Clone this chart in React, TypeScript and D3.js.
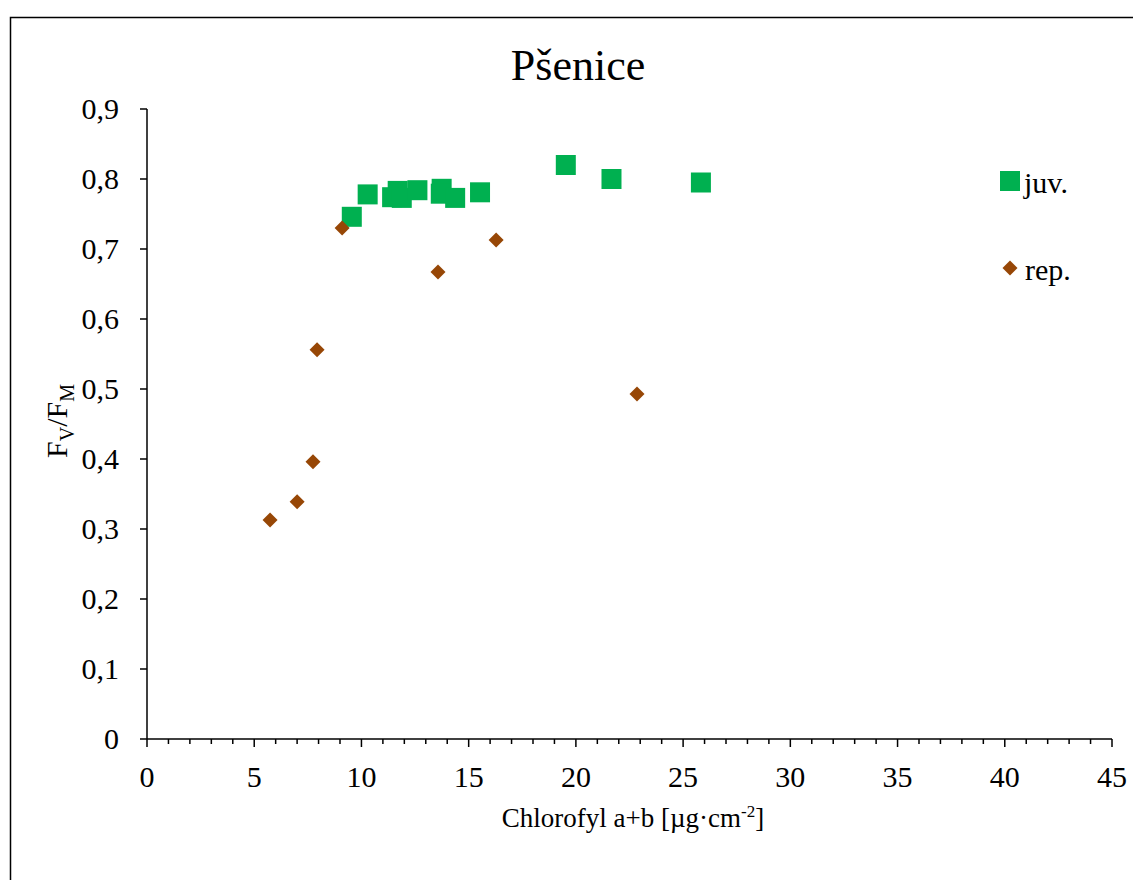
import React from 'react';
import * as d3 from 'd3';

// juv. - zelené čtverce
const juvX = [9.55, 10.29, 11.43, 11.69, 11.88, 12.61, 13.74, 13.7, 14.37, 15.53, 19.53, 21.66, 25.83];
const juvY = [0.746, 0.778, 0.774, 0.783, 0.773, 0.784, 0.786, 0.779, 0.773, 0.781, 0.82, 0.8, 0.795];
// rep. - hnědé kosočtverce
const repX = [5.74, 7.0, 7.74, 7.93, 9.1, 13.57, 16.28, 22.85];
const repY = [0.313, 0.339, 0.396, 0.556, 0.73, 0.667, 0.713, 0.493];

const xTicks = [0, 5, 10, 15, 20, 25, 30, 35, 40, 45];
const yTicks = [0, 0.1, 0.2, 0.3, 0.4, 0.5, 0.6, 0.7, 0.8, 0.9];
const seriesNames = ['juv.', 'rep.'];

const W = 1133, H = 880;
const green = '#00B050';
const brown = '#974706';
const font = '"Liberation Serif", "Times New Roman", serif';

const App = () => {
  const x = d3.scaleLinear().domain([0, 45]).range([147, 1112]);
  const y = d3.scaleLinear().domain([0, 0.9]).range([739, 109]);
  const minor = d3.range(0, 46, 1);
  const fmt = (v: number) => String(+v.toFixed(1)).replace('.', ',');
  const sq = 20;
  const dia = 'M0,-7.5L7.5,0L0,7.5L-7.5,0Z';

  return (
    <svg width={W} height={H} style={{position: 'absolute', left: 0, top: 0}} fontFamily={font}>
      <rect x={0} y={0} width={W} height={H} fill="#fff"/>
      <rect x={10.5} y={17.5} width={1300} height={1000} fill="none" stroke="#000" strokeWidth={1.5}/>
      <text x={578} y={80} textAnchor="middle" fontSize={44}>Pšenice</text>

      {/* osa y */}
      <line x1={x(0)} x2={x(0)} y1={y(0.9)} y2={y(0)} stroke="#000" strokeWidth={1.5}/>
      {yTicks.map(t => (
        <g key={'y' + t}>
          <line x1={x(0) - 7} x2={x(0)} y1={y(t)} y2={y(t)} stroke="#000" strokeWidth={1.5}/>
          <text x={119} y={y(t) + 10} textAnchor="end" fontSize={30}>{fmt(t)}</text>
        </g>
      ))}

      {/* osa x */}
      <line x1={x(0)} x2={x(45)} y1={y(0)} y2={y(0)} stroke="#000" strokeWidth={1.5}/>
      {minor.map(t => (
        <line key={'m' + t} x1={x(t)} x2={x(t)} y1={y(0)} y2={y(0) + (t % 5 === 0 ? 8 : 5)} stroke="#000" strokeWidth={1.5}/>
      ))}
      {xTicks.map(t => (
        <text key={'x' + t} x={x(t)} y={787} textAnchor="middle" fontSize={30}>{t}</text>
      ))}

      <text x={633} y={827} textAnchor="middle" fontSize={27}>
        Chlorofyl a+b [µg·cm<tspan dy={-10} fontSize={17}>-2</tspan><tspan dy={10}>]</tspan>
      </text>
      <text transform="translate(67,421) rotate(-90)" textAnchor="middle" fontSize={30}>
        F<tspan dy={7} fontSize={20}>V</tspan><tspan dy={-7}>/F</tspan><tspan dy={7} fontSize={20}>M</tspan>
      </text>

      {/* data */}
      {juvX.map((v, i) => (
        <rect key={'j' + i} x={x(v) - sq / 2} y={y(juvY[i]) - sq / 2} width={sq} height={sq} fill={green}/>
      ))}
      {repX.map((v, i) => (
        <path key={'r' + i} d={dia} transform={`translate(${x(v)},${y(repY[i])})`} fill={brown}/>
      ))}

      {/* legenda */}
      <rect x={1000} y={171} width={sq} height={sq} fill={green}/>
      <text x={1024} y={193} fontSize={30}>{seriesNames[0]}</text>
      <path d={dia} transform="translate(1010,268)" fill={brown}/>
      <text x={1025} y={280} fontSize={30}>{seriesNames[1]}</text>
    </svg>
  );
};

export default App;
